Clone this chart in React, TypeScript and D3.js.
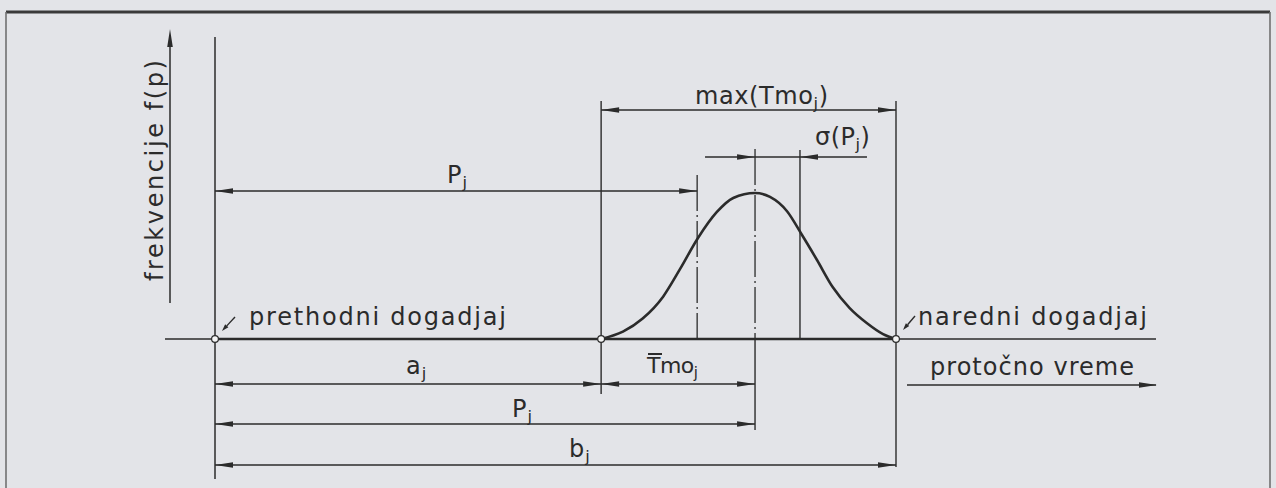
import React, { useEffect } from "react";
import * as d3 from "d3";

// Time axis (0 = prethodni dogadjaj, 100 = b_j) and the bell-shaped frequency curve
const curveT = [56.7, 59.9, 62.8, 65.8, 68.3, 70.9, 73.7, 76.1, 79.3, 81.5, 84.0, 86.2, 88.4, 90.7, 93.2, 95.7, 98.1, 100];
const curveF = [0, 0.05, 0.14, 0.29, 0.48, 0.69, 0.87, 0.966, 1.0, 0.973, 0.875, 0.712, 0.541, 0.356, 0.212, 0.11, 0.034, 0];

// Characteristic instants on the time axis
const markNames = ["start", "a_j", "P_j - σ", "P_j", "P_j + σ", "b_j"];
const markTimes = [0, 56.7, 70.8, 79.3, 85.9, 100];

const eventLabels = ["prethodni dogadjaj", "naredni dogadjaj"];
const axisLabels = ["frekvencije f(p)", "protočno vreme"];

const W = 1276;
const H = 488;
const INK = "#2b2b2b";
const BG = "#e3e4e8";
const FONT = "'DejaVu Sans', sans-serif";
const FS = 24;

const t = (name: string) => markTimes[markNames.indexOf(name)];

function Arrow({ x, y, dir, len = 18, hw = 2.8 }: { x: number; y: number; dir: number; len?: number; hw?: number }) {
  // tip at (x, y); dir = +1 points right, -1 points left
  const bx = x - dir * len;
  return <polygon points={`${x},${y} ${bx},${y - hw} ${bx},${y + hw}`} fill={INK} />;
}

function Pointer({ x1, y1, x2, y2 }: { x1: number; y1: number; x2: number; y2: number }) {
  // short slanted leader with a small filled head at (x2, y2)
  const a = Math.atan2(y2 - y1, x2 - x1);
  const len = 7;
  const hw = 2.2;
  const bx = x2 - Math.cos(a) * len;
  const by = y2 - Math.sin(a) * len;
  const nx = -Math.sin(a) * hw;
  const ny = Math.cos(a) * hw;
  return (
    <g>
      <line x1={x1} y1={y1} x2={bx} y2={by} stroke={INK} strokeWidth={1.4} />
      <polygon points={`${x2},${y2} ${bx + nx},${by + ny} ${bx - nx},${by - ny}`} fill={INK} />
    </g>
  );
}

function Dim({ x1, x2, y }: { x1: number; x2: number; y: number }) {
  return (
    <g>
      <line x1={x1} x2={x2} y1={y} y2={y} stroke={INK} strokeWidth={1.4} />
      <Arrow x={x1} y={y} dir={-1} />
      <Arrow x={x2} y={y} dir={1} />
    </g>
  );
}

function SubLabel({ x, y, main, sub, tail = "", spacing = 1, size = FS }: { x: number; y: number; main: string; sub: string; tail?: string; spacing?: number; size?: number }) {
  return (
    <text x={x} y={y} fontFamily={FONT} fontSize={size} fill={INK} letterSpacing={spacing}>
      {main}
      <tspan fontSize={size * 0.68} dy={5}>{sub}</tspan>
      {tail ? <tspan dy={-5}>{tail}</tspan> : null}
    </text>
  );
}

export default function App() {
  useEffect(() => {
    document.body.style.margin = "0";
  }, []);

  const x = d3.scaleLinear().domain([0, 100]).range([215, 896]);
  const y = d3.scaleLinear().domain([0, 1]).range([339, 193]);

  const pts: [number, number][] = curveT.map((tt, i) => [tt, curveF[i]]);
  const line = d3
    .line<[number, number]>()
    .x((d) => x(d[0]))
    .y((d) => y(d[1]))
    .curve(d3.curveMonotoneX);

  const base = y(0);
  const x0 = x(t("start"));
  const xa = x(t("a_j"));
  const xpl = x(t("P_j - σ"));
  const xp = x(t("P_j"));
  const xsr = x(t("P_j + σ"));
  const xb = x(t("b_j"));

  const dashDot = "36 4 2 4";

  return (
    <svg width={W} height={H} style={{ position: "fixed", left: 0, top: 0, display: "block" }}>
      <rect x={0} y={0} width={W} height={H} fill={BG} />

      {/* frame */}
      <line x1={6} x2={1270} y1={12} y2={12} stroke="#3a3a3a" strokeWidth={3} />
      <line x1={6} x2={6} y1={12} y2={H} stroke="#707070" strokeWidth={1.6} />
      <line x1={1270} x2={1270} y1={12} y2={H} stroke="#707070" strokeWidth={1.6} />

      {/* frequency axis */}
      <line x1={170} x2={170} y1={303} y2={40} stroke={INK} strokeWidth={1.5} />
      <polygon points={`170,29 167.2,47 172.8,47`} fill={INK} />
      <text
        transform="translate(163,281) rotate(-90)"
        fontFamily={FONT}
        fontSize={FS}
        fill={INK}
        textLength={221}
        lengthAdjust="spacing"
      >
        {axisLabels[0]}
      </text>

      {/* time axis */}
      <line x1={165} x2={1156} y1={base} y2={base} stroke={INK} strokeWidth={1.4} />
      <line x1={x0} x2={xb} y1={base} y2={base} stroke={INK} strokeWidth={2.6} />

      {/* extension lines */}
      <line x1={x0} x2={x0} y1={37} y2={479} stroke={INK} strokeWidth={1.5} />
      <line x1={xa} x2={xa} y1={101} y2={394} stroke={INK} strokeWidth={1.4} />
      <line x1={xpl} x2={xpl} y1={175} y2={base} stroke={INK} strokeWidth={1.3} strokeDasharray={dashDot} />
      <line x1={xp} x2={xp} y1={149} y2={base} stroke={INK} strokeWidth={1.3} strokeDasharray={dashDot} />
      <line x1={xp} x2={xp} y1={base} y2={430} stroke={INK} strokeWidth={1.4} />
      <line x1={xsr} x2={xsr} y1={150} y2={base} stroke={INK} strokeWidth={1.4} />
      <line x1={xb} x2={xb} y1={101} y2={467} stroke={INK} strokeWidth={1.4} />

      {/* frequency curve */}
      <path d={line(pts) ?? ""} fill="none" stroke={INK} strokeWidth={2.6} strokeLinejoin="round" />

      {/* event nodes */}
      {[x0, xa, xb].map((cx, i) => (
        <circle key={i} cx={cx} cy={base} r={3.4} fill="#f4f4f4" stroke={INK} strokeWidth={1.2} />
      ))}

      {/* dimension lines */}
      <Dim x1={xa} x2={xb} y={110} />
      <line x1={xp - 50} x2={xsr + 67} y1={157} y2={157} stroke={INK} strokeWidth={1.4} />
      <Arrow x={xp} y={157} dir={1} />
      <Arrow x={xsr} y={157} dir={-1} />
      <Dim x1={x0} x2={xpl} y={191} />
      <Dim x1={x0} x2={xa} y={384} />
      <Dim x1={xa} x2={xp} y={384} />
      <Dim x1={x0} x2={xp} y={424} />
      <Dim x1={x0} x2={xb} y={465} />

      {/* flow-time arrow */}
      <line x1={907} x2={1156} y1={385} y2={385} stroke={INK} strokeWidth={1.4} />
      <Arrow x={1157} y={385} dir={1} />
      <text x={930} y={375} fontFamily={FONT} fontSize={FS} fill={INK} textLength={204} lengthAdjust="spacing">
        {axisLabels[1]}
      </text>

      {/* event pointers */}
      <Pointer x1={235} y1={317} x2={222} y2={331} />
      <Pointer x1={915} y1={316} x2={903} y2={330} />

      <text x={249} y={325} fontFamily={FONT} fontSize={FS} fill={INK} textLength={257} lengthAdjust="spacing">
        {eventLabels[0]}
      </text>
      <text x={918} y={325} fontFamily={FONT} fontSize={FS} fill={INK} textLength={229} lengthAdjust="spacing">
        {eventLabels[1]}
      </text>

      {/* dimension labels */}
      <SubLabel x={695} y={104} main="max(Tmo" sub="j" tail=")" spacing={0.6} />
      <SubLabel x={815} y={145} main="σ(P" sub="j" tail=")" spacing={0.5} />
      <SubLabel x={447} y={183} main="P" sub="j" />
      <SubLabel x={406} y={374} main="a" sub="j" />
      <SubLabel x={647} y={373} main="Tmo" sub="j" spacing={-0.5} size={22} />
      <line x1={648} x2={662} y1={354} y2={354} stroke={INK} strokeWidth={2} />
      <SubLabel x={512} y={417} main="P" sub="j" />
      <SubLabel x={569} y={457} main="b" sub="j" />
    </svg>
  );
}
